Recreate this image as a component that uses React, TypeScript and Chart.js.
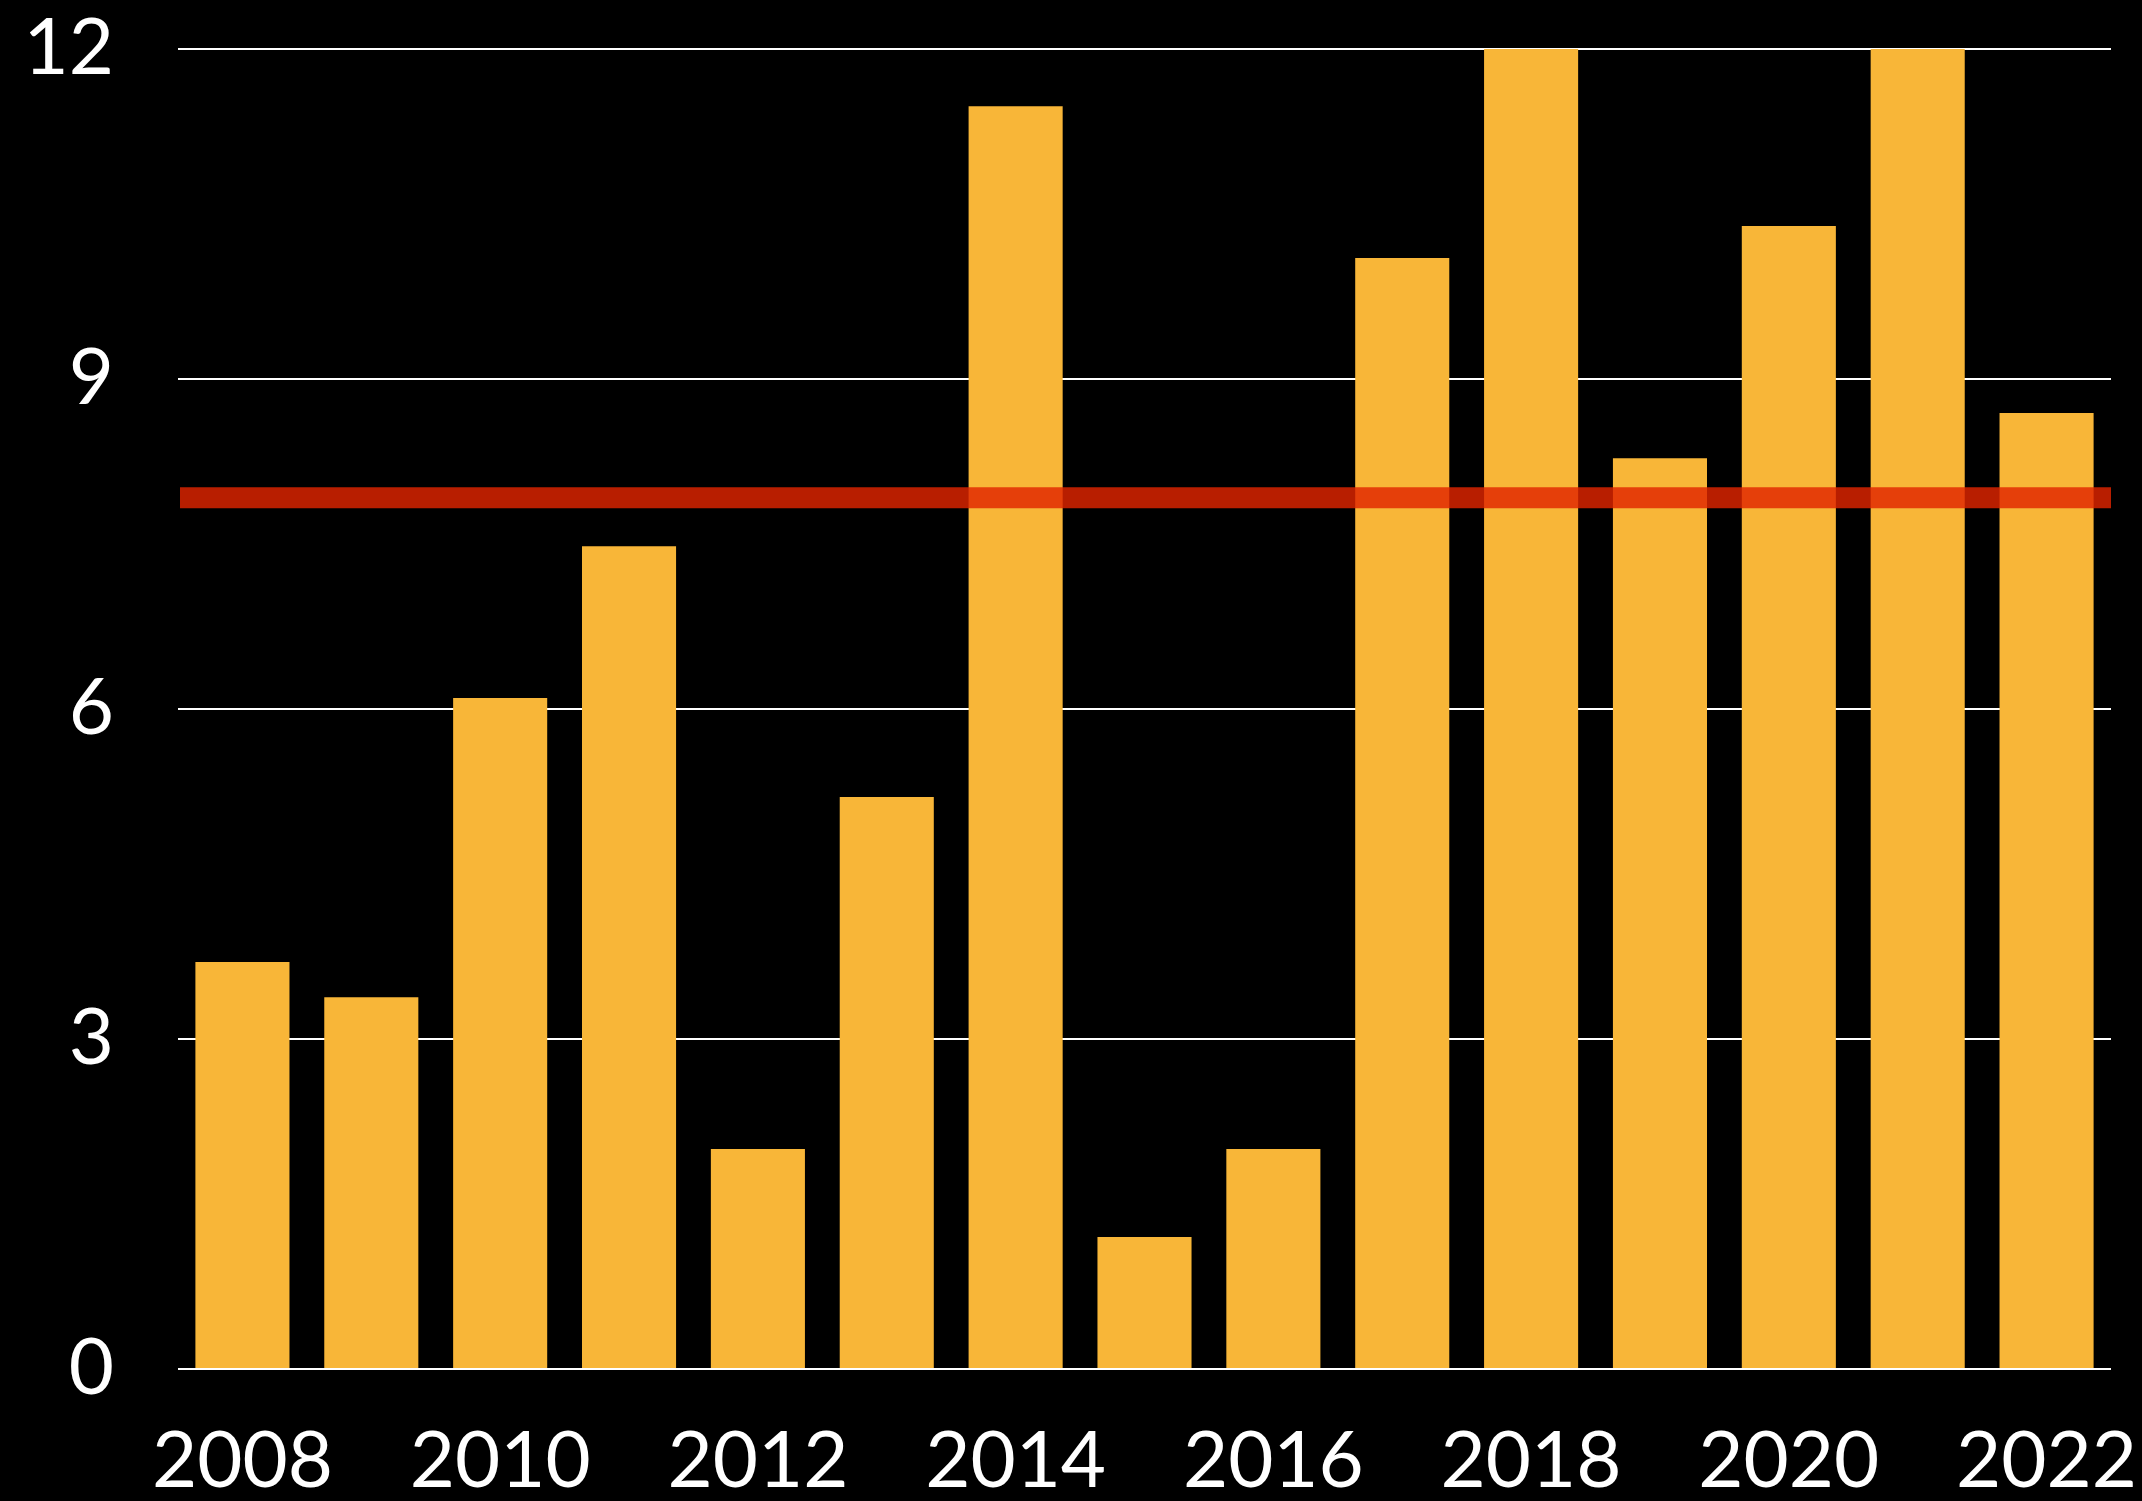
import React, { useEffect, useRef } from "react";
import { Chart, registerables } from "chart.js";

Chart.register(...registerables);

const years: string[] = ["2008", "2009", "2010", "2011", "2012", "2013", "2014", "2015", "2016", "2017", "2018", "2019", "2020", "2021", "2022"];
const values: number[] = [3.7, 3.38, 6.1, 7.48, 2.0, 5.2, 11.48, 1.2, 2.0, 10.1, 12, 8.28, 10.39, 12, 8.69];
const threshold = 7.92;
const yTicks: number[] = [0, 3, 6, 9, 12];

const FONT = "Lato, 'Open Sans', sans-serif";

const thresholdPlugin = {
  id: "thresholdLine",
  afterDatasetsDraw(chart: any) {
    const { ctx, chartArea, scales } = chart;
    const y = scales.y.getPixelForValue(threshold);
    ctx.save();
    ctx.strokeStyle = "rgba(224, 37, 0, 0.82)";
    ctx.lineWidth = 21;
    ctx.beginPath();
    ctx.moveTo(chartArea.left + 2, y);
    ctx.lineTo(chartArea.right, y);
    ctx.stroke();
    ctx.restore();
  },
};

export default function App() {
  const ref = useRef<HTMLCanvasElement | null>(null);
  useEffect(() => {
    document.body.style.margin = "0";
    document.body.style.background = "#000";
    const canvas = ref.current!;
    const chart = new Chart(canvas, {
      type: "bar",
      data: {
        labels: years,
        datasets: [
          {
            data: values,
            backgroundColor: "#F8B638",
            barPercentage: 0.73,
            categoryPercentage: 1,
          },
        ],
      },
      options: {
        responsive: false,
        animation: false,
        layout: { padding: { top: 49, right: 31, left: 0, bottom: 0 } },
        plugins: { legend: { display: false }, tooltip: { enabled: false } },
        scales: {
          x: {
            grid: { display: false },
            border: { display: false },
            ticks: {
              autoSkip: false,
              maxRotation: 0,
              color: "#fff",
              font: { family: FONT, size: 78 },
              padding: 38,
              callback: function (this: any, val: any, idx: number) {
                return idx % 2 === 0 ? years[idx] : "";
              },
            },
            afterFit(scale: any) {
              scale.height = 1501 - 1369;
              scale.paddingLeft = 0;
              scale.paddingRight = 0;
            },
          },
          y: {
            min: 0,
            max: 12,
            afterBuildTicks(scale: any) {
              scale.ticks = yTicks.map((v) => ({ value: v }));
            },
            grid: { color: "#ffffff", lineWidth: 2, drawTicks: false },
            border: { display: false },
            ticks: {
              color: "#fff",
              font: { family: FONT, size: 78 },
              padding: 64,
            },
            afterFit(scale: any) {
              scale.width = 178;
              scale.paddingTop = 0;
              scale.paddingBottom = 0;
            },
          },
        },
      },
      plugins: [thresholdPlugin],
    });
    return () => chart.destroy();
  }, []);
  return (
    <div style={{ width: 2142, height: 1501, background: "#000" }}>
      <canvas ref={ref} width={2142} height={1501} style={{ display: "block", width: 2142, height: 1501 }} />
    </div>
  );
}
